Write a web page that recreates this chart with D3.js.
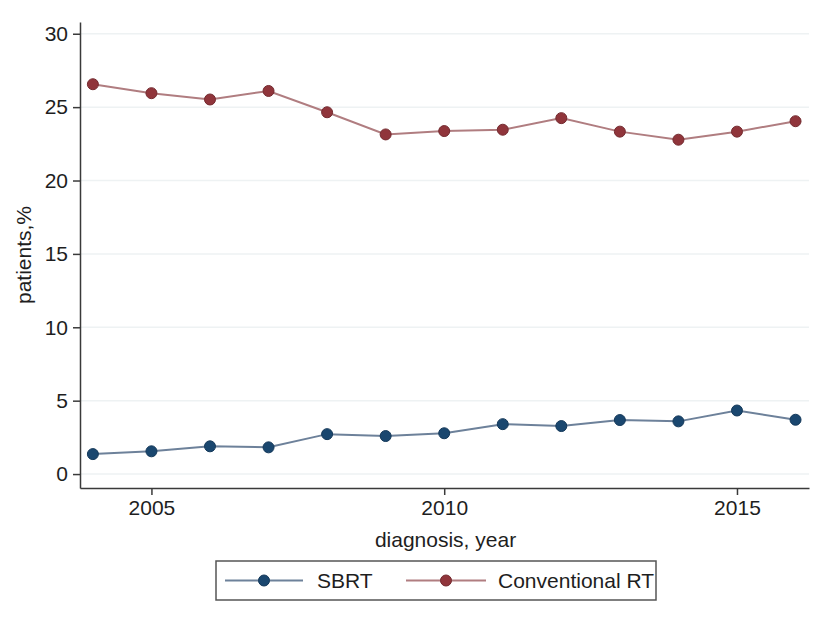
<!DOCTYPE html>
<html>
<head>
<meta charset="utf-8">
<script src="https://cdn.jsdelivr.net/npm/d3@7"></script>
<style>
  html, body { margin: 0; padding: 0; background: #ffffff; }
  svg { display: block; font-family: "Liberation Sans", Arial, Helvetica, sans-serif; }
</style>
</head>
<body>
<svg id="chart" width="830" height="622"></svg>
<script>
const years = [2004, 2005, 2006, 2007, 2008, 2009, 2010, 2011, 2012, 2013, 2014, 2015, 2016];
const sbrt = [1.36, 1.55, 1.89, 1.82, 2.72, 2.59, 2.78, 3.40, 3.27, 3.68, 3.59, 4.33, 3.70];
const conventional = [26.56, 25.95, 25.52, 26.10, 24.65, 23.14, 23.37, 23.46, 24.25, 23.33, 22.78, 23.33, 24.04];
const yTicks = [0, 5, 10, 15, 20, 25, 30];
const xTicks = [2005, 2010, 2015];
const seriesNames = ["SBRT", "Conventional RT"];
const seriesColors = ["#1a476f", "#90353b"];
const lineColors = ["#6d819a", "#b07d80"];

const svg = d3.select("#chart");
const plotLeft = 80, plotRight = 809, plotTop = 22, plotBottom = 488;
const fs = 21;

const x = d3.scaleLinear().domain([2003.78, 2016.23]).range([plotLeft, plotRight]);
const y = d3.scaleLinear().domain([-0.95, 30.8]).range([plotBottom, plotTop]);

// gridlines
svg.append("g").selectAll("line").data(yTicks).join("line")
  .attr("x1", plotLeft + 1).attr("x2", plotRight)
  .attr("y1", d => y(d)).attr("y2", d => y(d))
  .attr("stroke", "#eef2f3").attr("stroke-width", 1.5);

// y axis
const yAxis = svg.append("g").attr("transform", `translate(${plotLeft},0)`)
  .call(d3.axisLeft(y).tickValues(yTicks).tickSize(7).tickPadding(5).tickSizeOuter(0));
yAxis.select(".domain").attr("stroke", "#3a3a3a").attr("stroke-width", 1.5);
yAxis.selectAll(".tick line").attr("stroke", "#3a3a3a").attr("stroke-width", 1.5);
yAxis.selectAll(".tick text").attr("font-size", fs).attr("fill", "#1e1e1e")
  .attr("font-family", "Liberation Sans, Arial, sans-serif");

// x axis
const xAxis = svg.append("g").attr("transform", `translate(0,${plotBottom})`)
  .call(d3.axisBottom(x).tickValues(xTicks).tickFormat(d3.format("d")).tickSize(7).tickPadding(5).tickSizeOuter(0));
xAxis.select(".domain").attr("stroke", "#3a3a3a").attr("stroke-width", 1.5);
xAxis.selectAll(".tick line").attr("stroke", "#3a3a3a").attr("stroke-width", 1.5);
xAxis.selectAll(".tick text").attr("font-size", fs).attr("fill", "#1e1e1e")
  .attr("font-family", "Liberation Sans, Arial, sans-serif");

// axis titles
svg.append("text").attr("x", (plotLeft + plotRight) / 2 + 1).attr("y", 547)
  .attr("text-anchor", "middle").attr("font-size", fs).attr("fill", "#1e1e1e")
  .text("diagnosis, year");
svg.append("text").attr("transform", `translate(31,${(plotTop + plotBottom) / 2}) rotate(-90)`)
  .attr("text-anchor", "middle").attr("font-size", fs).attr("fill", "#1e1e1e")
  .text("patients,%");

// series
const seriesData = [sbrt, conventional];
const line = d3.line().x((d, i) => x(years[i])).y(d => y(d));
seriesData.forEach((vals, k) => {
  svg.append("path").datum(vals)
    .attr("fill", "none").attr("stroke", lineColors[k]).attr("stroke-width", 2)
    .attr("d", line);
  svg.append("g").selectAll("circle").data(vals).join("circle")
    .attr("cx", (d, i) => x(years[i])).attr("cy", d => y(d)).attr("r", 5.5)
    .attr("fill", seriesColors[k]).attr("stroke", d3.color(seriesColors[k]).darker(0.6)).attr("stroke-width", 1);
});

// legend
const lg = svg.append("g");
lg.append("rect").attr("x", 216).attr("y", 561).attr("width", 440).attr("height", 39)
  .attr("fill", "#ffffff").attr("stroke", "#555555").attr("stroke-width", 1.5);
const legendItems = [
  { x1: 225, x2: 303, tx: 317 },
  { x1: 406, x2: 486, tx: 498 }
];
legendItems.forEach((it, k) => {
  lg.append("line").attr("x1", it.x1).attr("x2", it.x2).attr("y1", 580.5).attr("y2", 580.5)
    .attr("stroke", lineColors[k]).attr("stroke-width", 2);
  lg.append("circle").attr("cx", (it.x1 + it.x2) / 2).attr("cy", 580.5).attr("r", 5.5)
    .attr("fill", seriesColors[k]).attr("stroke", d3.color(seriesColors[k]).darker(0.6)).attr("stroke-width", 1);
  lg.append("text").attr("x", it.tx).attr("y", 588).attr("font-size", fs).attr("fill", "#1e1e1e")
    .text(seriesNames[k]);
});
</script>
</body>
</html>
